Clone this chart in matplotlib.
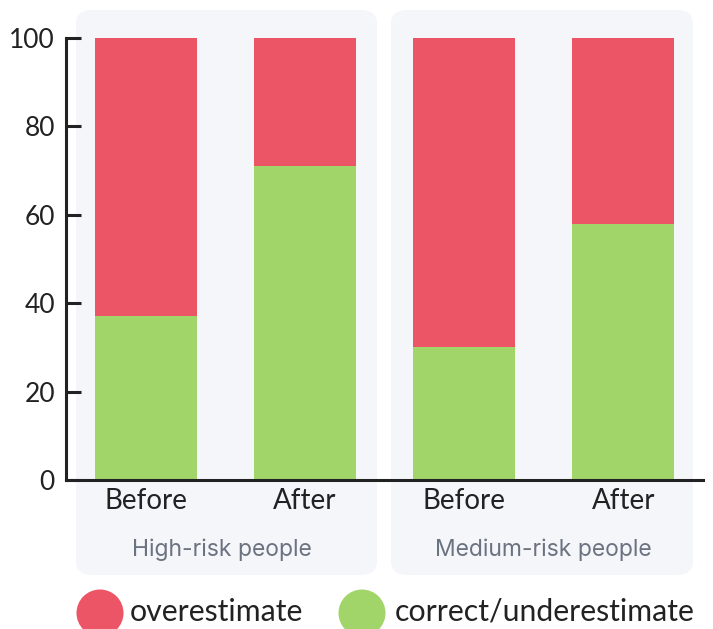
import matplotlib.pyplot as plt
from matplotlib.patches import FancyBboxPatch, Ellipse

plt.rcParams['font.family'] = ['Lato', 'DejaVu Sans']

# data
groups = ['High-risk people', 'Medium-risk people']
phases = ['Before', 'After', 'Before', 'After']
correct = [37, 71, 30, 58]
over = [100 - v for v in correct]

red = '#EC5565'
green = '#A1D469'
panel_bg = '#F5F6FA'
ink = '#222222'

W, H = 713, 629
fig = plt.figure(figsize=(W / 100, H / 100), dpi=100)
ax = fig.add_axes([66 / W, 1 - 480 / H, (703 - 66) / W, (480 - 38) / H])
ax.set_facecolor('none')

# rounded background panels, one per group
for x0, x1 in [(76, 377), (391, 693)]:
    fig.patches.append(FancyBboxPatch(
        (x0 / W, 1 - 575 / H), (x1 - x0) / W, (575 - 10) / H,
        boxstyle='round,pad=0,rounding_size=0.022',
        transform=fig.transFigure, facecolor=panel_bg, edgecolor='none',
        zorder=-1))

xs = range(len(phases))
ax.bar(xs, correct, width=0.64, color=green, zorder=2)
ax.bar(xs, over, width=0.64, bottom=correct, color=red, zorder=2)

ax.set_xlim(-0.5, 3.5)
ax.set_ylim(0, 100)
ax.set_yticks([0, 20, 40, 60, 80, 100])
ax.set_xticks(list(xs))
ax.set_xticklabels(phases)

for s in ['top', 'right']:
    ax.spines[s].set_visible(False)
for s in ['left', 'bottom']:
    ax.spines[s].set_linewidth(2.2)
    ax.spines[s].set_color(ink)
    ax.spines[s].set_zorder(3)

ax.tick_params(axis='y', direction='in', length=11, width=2.2, colors=ink,
               labelsize=19, pad=8)
ax.tick_params(axis='x', direction='in', length=7, width=2.2, colors=ink,
               labelsize=20, pad=6)

# group captions inside the panels
for cx, name in zip([222, 543], groups):
    fig.text(cx / W, 1 - 550 / H, name, ha='center', va='center',
             fontsize=16.5, color='#6B7280', family=['Inter', 'DejaVu Sans'])

# legend
items = [(100, 130, 'overestimate', red), (362, 395, 'correct/underestimate', green)]
for mx, tx, label, col in items:
    fig.patches.append(Ellipse((mx / W, 1 - 613 / H), 47 / W, 47 / H,
                               transform=fig.transFigure, facecolor=col,
                               edgecolor='none'))
    fig.text(tx / W, 1 - 612 / H, label, ha='left', va='center',
             fontsize=21.8, color=ink)

fig.savefig('out.png', dpi=100)
